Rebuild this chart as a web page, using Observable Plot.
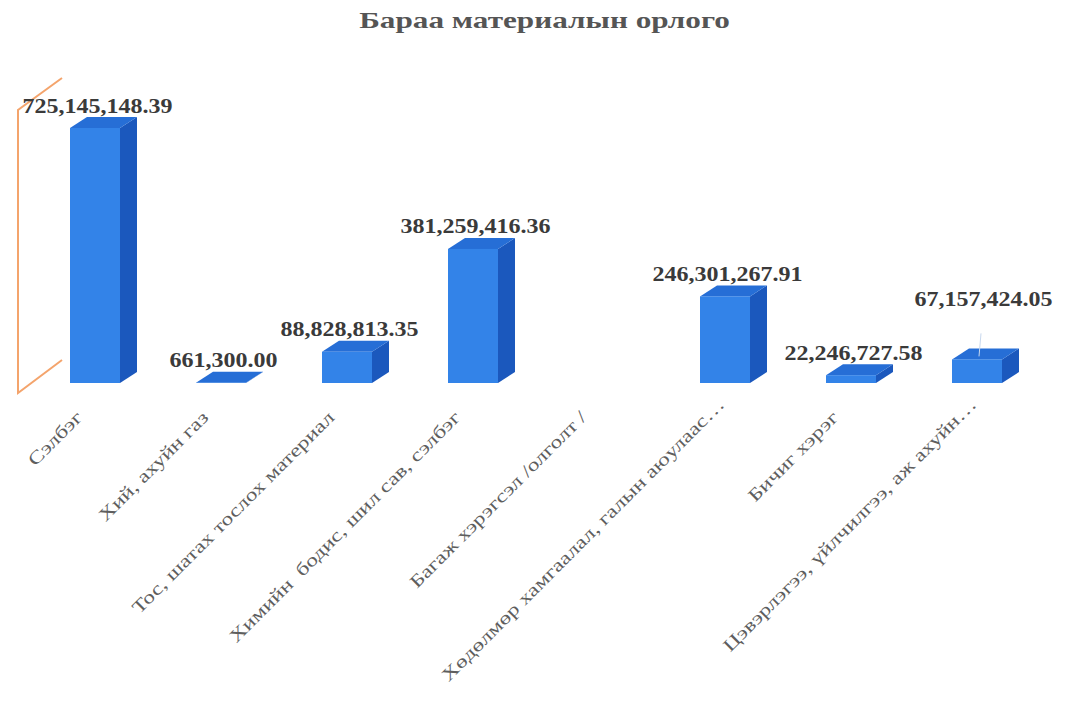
<!DOCTYPE html>
<html><head><meta charset="utf-8">
<script src="https://cdn.jsdelivr.net/npm/d3@7"></script>
<script src="https://cdn.jsdelivr.net/npm/@observablehq/plot@0.6"></script>
<style>
body{margin:0;background:#fff;}
#title{box-sizing:border-box;height:50px;padding-top:7px;line-height:44px;text-align:center;padding-left:17px;font:bold 24px "Liberation Serif",serif;color:#555;white-space:nowrap;overflow:hidden;}
#title span{display:inline-block;transform:scaleX(1.3);}
</style></head><body>
<div id="title"><span id="tt"></span></div>
<div id="chart"></div>
<script>
const titleText = "Бараа материалын орлого";
const categories = [
  "Сэлбэг",
  "Хий, ахуйн газ",
  "Тос, шатах тослох материал",
  "Химийн  бодис, шил сав, сэлбэг",
  "Багаж хэрэгсэл /олголт /",
  "Хөдөлмөр хамгаалал, галын аюулаас…",
  "Бичиг хэрэг",
  "Цэвэрлэгээ, үйлчилгээ, аж ахуйн…"
];
const values = [725145148.39, 661300.00, 88828813.35, 381259416.36, null, 246301267.91, 22246727.58, 67157424.05];

document.getElementById("tt").textContent = titleText;

const rows = categories.map((c, i) => ({category: c, value: values[i]}));
const barRows = rows.filter(d => d.value != null);
const fmt = d3.format(",.2f");
const FRONT = "#3383e8", TOP = "#266ed6", SIDE = "#1b58bd";
const DX = 17, DY = 11;
const movedLabel = categories[7];

function depthFaces(index, scales) {
  const x = scales.x, y = scales.y;
  const bw = x.bandwidth();
  const g = d3.create("svg:g");
  // chart side wall outline
  const fx = x(categories[0]);
  const yTop = y(d3.max(values)), y0 = y(0);
  g.append("path")
    .attr("d", `M${fx - 8},${yTop - 50} L${fx - 52},${yTop - 18} L${fx - 52},${y0 + 10} L${fx - 8},${y0 - 23}`)
    .attr("fill", "none").attr("stroke", "#f4a46c").attr("stroke-width", 2);
  for (const r of barRows) {
    const x0 = x(r.category), x1 = x0 + bw, yt = y(r.value), yb = y(0);
    g.append("polygon")
      .attr("points", `${x1},${yt} ${x1 + DX},${yt - DY} ${x1 + DX},${yb - DY} ${x1},${yb}`)
      .attr("fill", SIDE);
    g.append("polygon")
      .attr("points", `${x0},${yt} ${x0 + DX},${yt - DY} ${x1 + DX},${yt - DY} ${x1},${yt}`)
      .attr("fill", TOP);
    if (r.category === movedLabel) {
      g.append("line")
        .attr("x1", x0 + bw / 2 + 4).attr("y1", yt - 26)
        .attr("x2", x0 + bw / 2 + 2).attr("y2", yt - 3)
        .attr("stroke", "#c8d8ee").attr("stroke-width", 1);
    }
  }
  return g.node();
}

const plot = Plot.plot({
  width: 1073,
  height: 657,
  marginTop: 78,
  marginBottom: 324,
  marginLeft: 0,
  marginRight: 0,
  style: {fontFamily: "'Liberation Serif', serif", background: "#fff", overflow: "visible"},
  x: {type: "band", domain: categories, range: [44.6, 1027.4], paddingInner: 0.6, paddingOuter: 0.2, axis: null},
  y: {domain: [0, d3.max(values)], axis: null},
  marks: [
    depthFaces,
    Plot.barY(barRows, {x: "category", y: "value", fill: FRONT}),
    Plot.text(barRows.filter(d => d.category !== movedLabel), {
      x: "category", y: "value", text: d => fmt(d.value), lineAnchor: "bottom",
      dy: -16, dx: 2, fontSize: 20, fontWeight: "bold", fill: "#3a3a3a", ariaDescription: "vlabel"
    }),
    Plot.text(barRows.filter(d => d.category === movedLabel), {
      x: "category", y: "value", text: d => fmt(d.value), lineAnchor: "bottom",
      dy: -54, dx: 6, fontSize: 20, fontWeight: "bold", fill: "#3a3a3a", ariaDescription: "vlabel"
    }),
    Plot.text(rows.filter(d => !d.category.endsWith("…")), {
      x: "category", text: "category", frameAnchor: "bottom", rotate: -45, textAnchor: "end",
      lineAnchor: "bottom", dx: -12, dy: 35, fontSize: 18, fill: "#5e5e5e", ariaDescription: "clabel"
    }),
    Plot.text(rows.filter(d => d.category.endsWith("…")), {
      x: "category", text: "category", frameAnchor: "bottom", rotate: -45, textAnchor: "end",
      lineAnchor: "bottom", dx: 0, dy: 22, fontSize: 18, fill: "#5e5e5e", ariaDescription: "clabel"
    })
  ]
});
document.getElementById("chart").appendChild(plot);

function stretch(selector, k) {
  plot.querySelectorAll(selector).forEach(t => {
    const L = t.getComputedTextLength();
    t.setAttribute("textLength", L * k);
    t.setAttribute("lengthAdjust", "spacingAndGlyphs");
  });
}
stretch('g[aria-description="vlabel"] text', 1.2);
stretch('g[aria-description="clabel"] text', 1.3);
</script>
</body></html>
